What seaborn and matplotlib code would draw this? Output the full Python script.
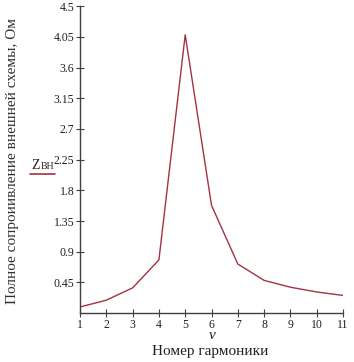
import matplotlib
matplotlib.use("Agg")
import matplotlib.pyplot as plt
import seaborn as sns
import pandas as pd
import numpy as np

harmonics = [1, 2, 3, 4, 5, 6, 7, 8, 9, 10, 11]
impedance = [0.09, 0.19, 0.37, 0.78, 4.08, 1.58, 0.72, 0.48, 0.38, 0.31, 0.26]
yticks = [0.45, 0.9, 1.35, 1.8, 2.25, 2.7, 3.15, 3.6, 4.05, 4.5]
ytick_labels = ["0.45", "0.9", "1.35", "1.8", "2.25", "2.7", "3.15", "3.6", "4.05", "4.5"]

df = pd.DataFrame({"v": harmonics, "z": impedance})

sns.set_style("white")
plt.rcParams['font.family'] = ['Liberation Serif', 'DejaVu Serif']

fig = plt.figure(figsize=(3.54, 3.62), dpi=100)
ax = fig.add_axes([0.226, 0.135, 0.743, 0.848])
color = "#a83040"
sns.lineplot(data=df, x="v", y="z", ax=ax, color=color, linewidth=1.0)

ax.set_xlim(1, 11)
ax.set_ylim(0, 4.5)
ax.set_xticks(harmonics)
ax.set_xticklabels([str(h) for h in harmonics], fontsize=8.5)
ax.set_yticks(yticks)
ax.set_yticklabels(ytick_labels, fontsize=8.5)
for s in ["top", "right"]:
    ax.spines[s].set_visible(False)
for s in ["left", "bottom"]:
    ax.spines[s].set_color("#404040")
    ax.spines[s].set_linewidth(1.0)
ax.tick_params(axis="both", direction="inout", length=6, width=0.8, color="#404040",
               pad=1, labelcolor="#202020", bottom=True, left=True)
ax.set_xlabel("")
ax.set_ylabel("")

fig.text(0.598, 0.072, "ν", ha="center", va="center", fontsize=11, style="italic", color="#202020")
fig.text(0.595, 0.030, "Номер гармоники", ha="center", va="center", fontsize=11, color="#202020")
fig.text(0.035, 0.555, "Полное сопроиивление внешней схемы, Ом", rotation=90,
         ha="center", va="center", fontsize=11, color="#303030")
fig.text(0.088, 0.532, "Z", ha="left", va="baseline", fontsize=10, color="#202020")
fig.text(0.115, 0.532, "ВН", ha="left", va="baseline", fontsize=7, color="#202020")
fig.add_artist(plt.Line2D([0.085, 0.155], [0.52, 0.52], color=color, linewidth=1.2, transform=fig.transFigure))

fig.savefig("out.png", dpi=100)
